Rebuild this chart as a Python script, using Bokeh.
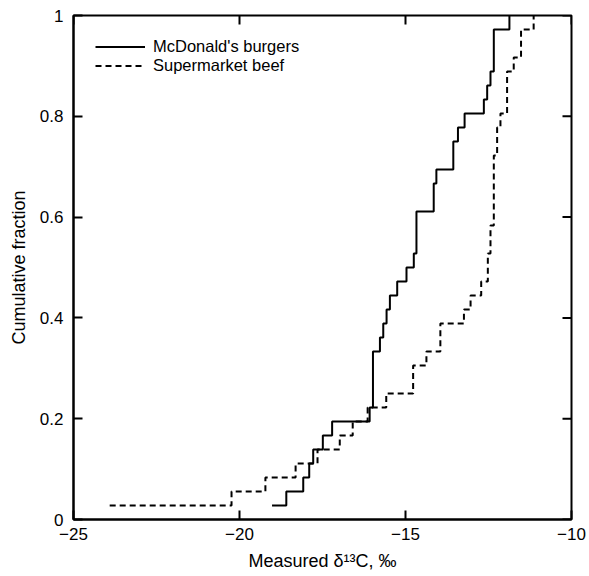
import numpy as np
from bokeh.plotting import figure
from bokeh.models import FixedTicker, Range1d
from bokeh.embed import file_html
from bokeh.resources import INLINE

mcdonalds = [-19.02, -18.59, -18.08, -17.90, -17.78, -17.49, -17.21, -16.08,
             -15.98, -15.98, -15.98, -15.98, -15.77, -15.67, -15.57, -15.47,
             -15.25, -14.97, -14.75, -14.67, -14.67, -14.67, -14.15, -14.15,
             -14.07, -13.56, -13.56, -13.42, -13.22, -12.64, -12.54, -12.44,
             -12.34, -12.34, -12.34, -11.87]
supermarket = [-23.91, -20.24, -19.22, -18.31, -17.65, -16.98, -16.59, -16.14,
               -15.58, -14.77, -14.77, -14.37, -13.95, -13.95, -13.24, -13.04,
               -12.72, -12.52, -12.52, -12.44, -12.44, -12.34, -12.34, -12.34,
               -12.34, -12.34, -12.24, -12.24, -12.14, -11.94, -11.94, -11.94,
               -11.74, -11.52, -11.52, -11.14]
series_labels = ["McDonald's burgers", "Supermarket beef"]
x_ticks = [-25, -20, -15, -10]
y_ticks = [0, 0.2, 0.4, 0.6, 0.8, 1]
x_lo, x_hi = -25, -10
y_lo, y_hi = 0, 1

FONT = "Liberation Sans"
TICK_LEN = 9
W, H = 589, 576
B_LEFT, B_RIGHT, B_TOP, B_BOTTOM = 73, 18, 15, 57
FRAME_W = W - B_LEFT - B_RIGHT
FRAME_H = H - B_TOP - B_BOTTOM

p = figure(width=W, height=H, output_backend="svg", toolbar_location=None,
           x_range=Range1d(x_lo, x_hi), y_range=Range1d(y_lo, y_hi),
           min_border_left=B_LEFT, min_border_right=B_RIGHT,
           min_border_top=B_TOP, min_border_bottom=B_BOTTOM)
p.grid.visible = False
p.outline_line_color = "black"
p.outline_line_width = 2
p.background_fill_color = "white"
p.border_fill_color = "white"


def ecdf(vals):
    v = np.sort(np.asarray(vals, dtype=float))
    return v, np.arange(1, len(v) + 1) / len(v)


xm, ym = ecdf(mcdonalds)
xs, ys = ecdf(supermarket)
p.step(xm, ym, mode="after", line_color="black", line_width=2,
       legend_label=series_labels[0])
p.step(xs, ys, mode="after", line_color="black", line_width=2,
       line_dash="6 4", legend_label=series_labels[1])

# mirrored inward ticks on the top and right frame edges
dy = TICK_LEN / FRAME_H * (y_hi - y_lo)
dx = TICK_LEN / FRAME_W * (x_hi - x_lo)
nx, ny = len(x_ticks), len(y_ticks)
p.segment(x0=x_ticks, y0=[y_hi] * nx, x1=x_ticks, y1=[y_hi - dy] * nx,
          line_color="black", line_width=2)
p.segment(x0=[x_hi] * ny, y0=y_ticks, x1=[x_hi - dx] * ny, y1=y_ticks,
          line_color="black", line_width=2)

for ax, ticks in ((p.xaxis[0], x_ticks), (p.yaxis[0], y_ticks)):
    ax.ticker = FixedTicker(ticks=ticks)
    ax.axis_line_color = "black"
    ax.axis_line_width = 2
    ax.major_tick_line_color = "black"
    ax.major_tick_line_width = 2
    ax.major_tick_in = TICK_LEN
    ax.major_tick_out = 0
    ax.minor_tick_line_color = None
    ax.major_label_text_font = FONT
    ax.major_label_text_color = "black"
    ax.major_label_text_font_size = "17px"
    ax.axis_label_text_font = FONT
    ax.axis_label_text_font_size = "18px"
    ax.axis_label_text_font_style = "normal"
    ax.axis_label_text_color = "black"
    ax.axis_label_standoff = 8

p.xaxis[0].major_label_standoff = 8
p.yaxis[0].major_label_standoff = 10
p.xaxis[0].axis_label = "Measured δ¹³C, ‰"
p.yaxis[0].axis_label = "Cumulative fraction"

lg = p.legend[0]
lg.location = "top_left"
lg.border_line_color = None
lg.background_fill_alpha = 0
lg.margin = 22
lg.padding = 6
lg.spacing = -2
lg.glyph_width = 50
lg.glyph_height = 15
lg.label_height = 15
lg.label_standoff = 8
lg.label_text_font = FONT
lg.label_text_font_size = "16.5px"
lg.label_text_color = "black"

open("out.html", "w").write(file_html(p, INLINE))
